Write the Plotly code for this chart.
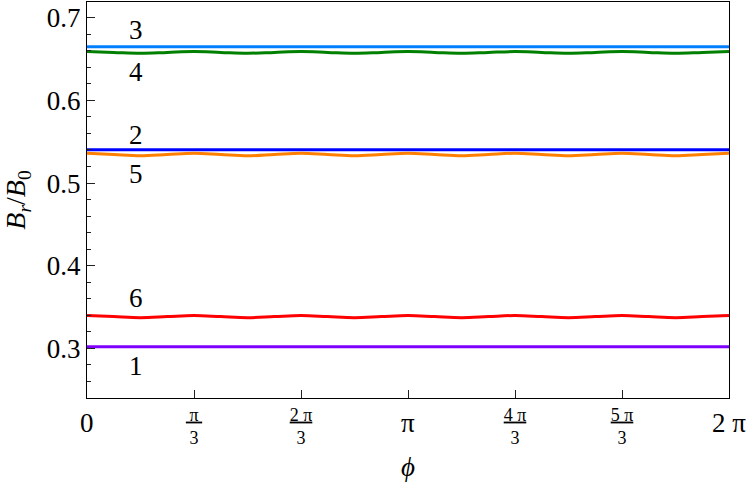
import numpy as np
import plotly.graph_objects as go

# sample angles (degrees), every 15 deg over a full turn
phi_deg = [0, 15, 30, 45, 60, 75, 90, 105, 120, 135, 150, 165, 180,
           195, 210, 225, 240, 255, 270, 285, 300, 315, 330, 345, 360]

# B_r/B_0
br_1 = [0.302, 0.302, 0.302, 0.302, 0.302, 0.302, 0.302, 0.302, 0.302, 0.302, 0.302, 0.302, 0.302,
        0.302, 0.302, 0.302, 0.302, 0.302, 0.302, 0.302, 0.302, 0.302, 0.302, 0.302, 0.302]
br_2 = [0.5404, 0.5404, 0.5404, 0.5404, 0.5404, 0.5404, 0.5404, 0.5404, 0.5404, 0.5404, 0.5404, 0.5404, 0.5404,
        0.5404, 0.5404, 0.5404, 0.5404, 0.5404, 0.5404, 0.5404, 0.5404, 0.5404, 0.5404, 0.5404, 0.5404]
br_3 = [0.6648, 0.6648, 0.6648, 0.6648, 0.6648, 0.6648, 0.6648, 0.6648, 0.6648, 0.6648, 0.6648, 0.6648, 0.6648,
        0.6648, 0.6648, 0.6648, 0.6648, 0.6648, 0.6648, 0.6648, 0.6648, 0.6648, 0.6648, 0.6648, 0.6648]
br_4 = [0.6590, 0.6580, 0.6570, 0.6580, 0.6590, 0.6580, 0.6570, 0.6580, 0.6590, 0.6580, 0.6570, 0.6580, 0.6590,
        0.6580, 0.6570, 0.6580, 0.6590, 0.6580, 0.6570, 0.6580, 0.6590, 0.6580, 0.6570, 0.6580, 0.6590]
br_5 = [0.5361, 0.5345, 0.5329, 0.5345, 0.5361, 0.5345, 0.5329, 0.5345, 0.5361, 0.5345, 0.5329, 0.5345, 0.5361,
        0.5345, 0.5329, 0.5345, 0.5361, 0.5345, 0.5329, 0.5345, 0.5361, 0.5345, 0.5329, 0.5345, 0.5361]
br_6 = [0.3398, 0.3385, 0.3372, 0.3385, 0.3398, 0.3385, 0.3372, 0.3385, 0.3398, 0.3385, 0.3372, 0.3385, 0.3398,
        0.3385, 0.3372, 0.3385, 0.3398, 0.3385, 0.3372, 0.3385, 0.3398, 0.3385, 0.3372, 0.3385, 0.3398]

curve_names = ["1", "2", "3", "4", "5", "6"]
curve_colors = ["#8000FF", "#0000FF", "#0080FF", "#008000", "#FF8000", "#FF0000"]
label_y = [0.2786, 0.5576, 0.685, 0.634, 0.5115, 0.361]

FONT = "Times New Roman, Liberation Serif, serif"

tick_vals = [0, np.pi / 3, 2 * np.pi / 3, np.pi, 4 * np.pi / 3, 5 * np.pi / 3, 2 * np.pi]
# fractions stay as tick labels, whole multiples are drawn bigger as annotations
tick_text = ["", "<u>&#8201;π&#8201;</u><br>3", "<u>2 π</u><br>3", "",
             "<u>4 π</u><br>3", "<u>5 π</u><br>3", ""]
big_vals = [0, np.pi, 2 * np.pi]
big_text = ["0", "π", "2 π"]

phi = np.radians(phi_deg)
series = [br_1, br_2, br_3, br_4, br_5, br_6]

fig = go.Figure()
for name, vals, col in zip(curve_names, series, curve_colors):
    fig.add_trace(go.Scatter(
        x=phi, y=vals, mode="lines", name=name,
        line=dict(color=col, width=3, shape="spline"),
        showlegend=False,
    ))

for name, yv in zip(curve_names, label_y):
    fig.add_annotation(x=0.48, y=yv, text=name, showarrow=False,
                       font=dict(family=FONT, size=27, color="black"))

for xv, txt in zip(big_vals, big_text):
    fig.add_annotation(x=xv, y=0, yref="paper", yanchor="middle", yshift=-25,
                       text=txt, showarrow=False,
                       font=dict(family=FONT, size=27, color="black"))

fig.update_layout(
    width=747, height=494,
    margin=dict(l=87, r=18, t=2, b=96),
    plot_bgcolor="white", paper_bgcolor="white",
    font=dict(family=FONT, size=27, color="black"),
)
fig.update_xaxes(
    range=[0, 2 * np.pi], tickvals=tick_vals, ticktext=tick_text,
    tickfont=dict(family=FONT, size=18),
    ticks="inside", ticklen=8, tickcolor="#222",
    showline=True, linecolor="black", linewidth=1, mirror=True,
    showgrid=False, zeroline=False, automargin=False,
    title=dict(text="<i>ϕ</i>", standoff=10, font=dict(size=27)),
)
fig.update_yaxes(
    range=[0.24, 0.719], tick0=0, dtick=0.1, tickformat=".1f",
    tickfont=dict(family=FONT, size=27),
    ticks="inside", ticklen=8, tickcolor="#222",
    minor=dict(dtick=0.02, tick0=0, ticks="inside", ticklen=4, tickcolor="#222"),
    showline=True, linecolor="black", linewidth=1, mirror=True,
    showgrid=False, zeroline=False, automargin=False,
    title=dict(text="<i>B</i><sub><i>r</i></sub>/<i>B</i><sub>0</sub>", standoff=16,
               font=dict(size=28)),
)

fig.write_html("out.html", config={"displayModeBar": False},
               post_script="document.body.style.margin='0';")
